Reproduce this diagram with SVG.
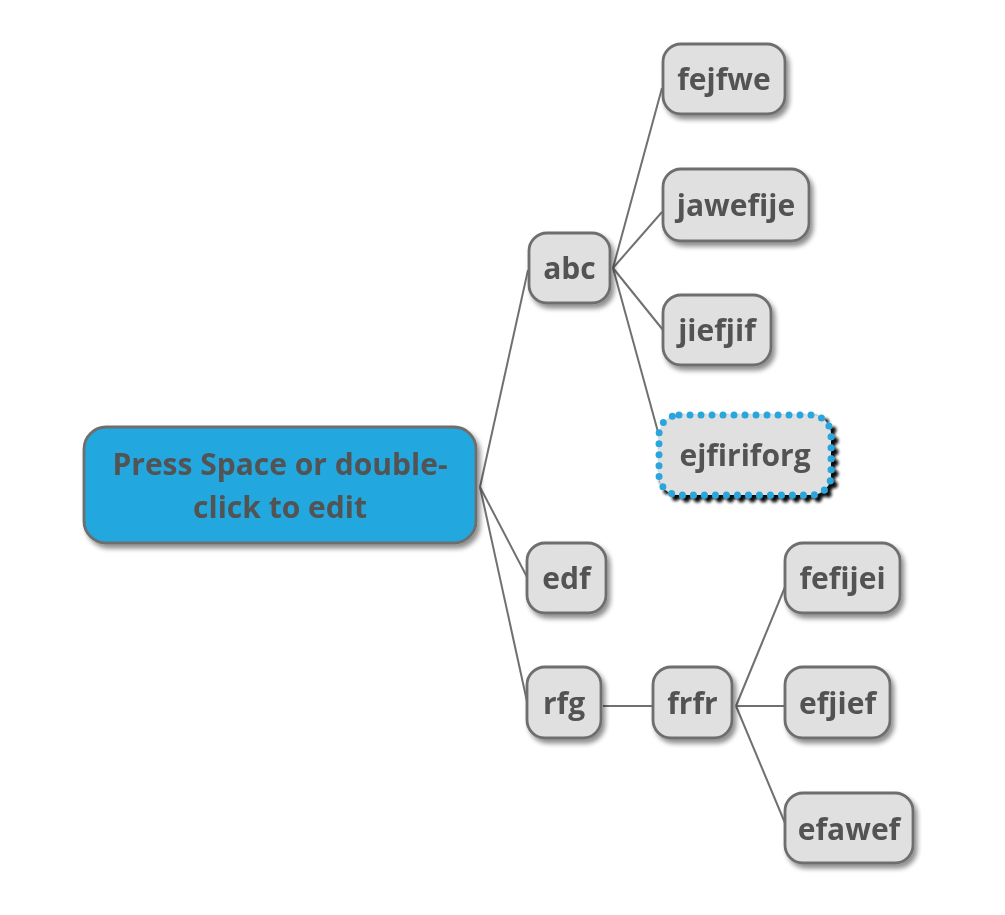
<svg xmlns="http://www.w3.org/2000/svg" width="1005" height="915" viewBox="0 0 1005 915">
<defs>
<filter id="sh" x="-20%" y="-20%" width="150%" height="160%">
<feGaussianBlur in="SourceAlpha" stdDeviation="2.5"/>
<feOffset dx="3" dy="4" result="b"/>
<feComponentTransfer><feFuncA type="linear" slope="0.45"/></feComponentTransfer>
<feMerge><feMergeNode/><feMergeNode in="SourceGraphic"/></feMerge>
</filter>
<filter id="shd" x="-20%" y="-20%" width="150%" height="160%">
<feGaussianBlur in="SourceAlpha" stdDeviation="1.5"/>
<feOffset dx="4" dy="4" result="b"/>
<feComponentTransfer><feFuncA type="linear" slope="0.95"/></feComponentTransfer>
<feMerge><feMergeNode/><feMergeNode in="SourceGraphic"/></feMerge>
</filter>
</defs>
<style>
.n rect{fill:#e0e0e0;stroke:#6e6e6e;stroke-width:2.8}
.n{filter:url(#sh)}
text{font-family:"Open Sans","Noto Sans","Liberation Sans",sans-serif;font-weight:bold;font-size:30px;fill:#535353;text-anchor:middle}
.c line{stroke:#707070;stroke-width:2;fill:none}
</style>
<rect width="1005" height="915" fill="#ffffff"/>
<g class="c" id="connectors">
<line x1="480" y1="487" x2="528" y2="270"/>
<line x1="480" y1="487" x2="527" y2="577"/>
<line x1="480" y1="487" x2="528" y2="706"/>
<line x1="613" y1="268" x2="662" y2="88"/>
<line x1="613" y1="268" x2="662" y2="212"/>
<line x1="613" y1="268" x2="663" y2="330"/>
<line x1="613" y1="268" x2="658" y2="432"/>
<line x1="603" y1="706" x2="653" y2="706"/>
<line x1="736" y1="706" x2="785" y2="587"/>
<line x1="736" y1="706" x2="785" y2="706"/>
<line x1="736" y1="706" x2="785" y2="823"/>
</g>
<g id="root" class="n"><rect x="84" y="427" width="392" height="116" rx="22" style="fill:#22a7de"/>
<text x="280" y="475">Press Space or double-</text><text x="280" y="518">click to edit</text></g>
<g id="abc" class="n"><rect x="529" y="233" width="81" height="70" rx="18"/><text x="569.5" y="279">abc</text></g>
<g id="fejfwe" class="n"><rect x="663" y="44" width="122" height="70" rx="18"/><text x="724" y="90">fejfwe</text></g>
<g id="jawefije" class="n"><rect x="663" y="169" width="146" height="72" rx="18"/><text x="736" y="216">jawefije</text></g>
<g id="jiefjif" class="n"><rect x="663" y="295" width="108" height="70" rx="18"/><text x="717" y="341">jiefjif</text></g>
<g id="ejfiriforg" style="filter:url(#shd)"><rect x="659" y="415" width="172" height="80" rx="20" style="fill:#e0e0e0;stroke:#2aa6dc;stroke-width:7;stroke-dasharray:0 11;stroke-linecap:round"/><text x="745" y="466">ejfiriforg</text></g>
<g id="edf" class="n"><rect x="527" y="543" width="79" height="70" rx="18"/><text x="566.5" y="589">edf</text></g>
<g id="rfg" class="n"><rect x="527" y="667" width="74" height="71" rx="18"/><text x="564" y="714">rfg</text></g>
<g id="frfr" class="n"><rect x="653" y="667" width="79" height="71" rx="18"/><text x="692.5" y="714">frfr</text></g>
<g id="fefijei" class="n"><rect x="785" y="543" width="115" height="70" rx="18"/><text x="842.5" y="589">fefijei</text></g>
<g id="efjief" class="n"><rect x="785" y="667" width="105" height="71" rx="18"/><text x="837.5" y="714">efjief</text></g>
<g id="efawef" class="n"><rect x="785" y="793" width="128" height="70" rx="18"/><text x="849" y="840">efawef</text></g>
</svg>
